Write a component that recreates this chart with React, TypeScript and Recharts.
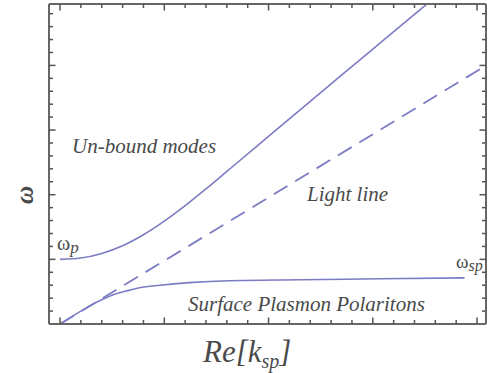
import { ComposedChart, Line, Scatter, XAxis, YAxis } from "recharts";

// values (k in units of ~207px, omega in units where omega_p = 0.5)
const upperK = [0, 0.1, 0.2, 0.3, 0.4, 0.5, 0.6, 0.7, 0.8, 0.97, 1.15, 1.35, 1.54, 1.76];
const upperW = [0.5, 0.51, 0.545, 0.605, 0.69, 0.795, 0.915, 1.045, 1.18, 1.41, 1.655, 1.925, 2.18, 2.475];

const lightK = [0, 2.034];
const lightW = [0, 1.99];

const sppK = [0, 0.09, 0.19, 0.28, 0.33, 0.38, 0.48, 0.62, 0.81, 1.15, 1.54, 1.94];
const sppW = [0, 0.09, 0.18, 0.24, 0.26, 0.28, 0.3, 0.32, 0.335, 0.342, 0.35, 0.357];

const xTicks = [0, 0.1, 0.2, 0.3, 0.4, 0.5, 0.6, 0.7, 0.8, 0.9, 1, 1.1, 1.2, 1.3, 1.4, 1.5, 1.6, 1.7, 1.8, 1.9, 2];
const xMajorTicks = [0, 0.5, 1, 1.5, 2];
const yTicks = [0.1, 0.2, 0.3, 0.4, 0.5, 0.6, 0.7, 0.8, 0.9, 1, 1.1, 1.2, 1.3, 1.4, 1.5, 1.6, 1.7, 1.8, 1.9, 2, 2.1, 2.2, 2.3, 2.4];
const yMajorTicks = [0.5, 1, 1.5, 2];

const X_DOMAIN: [number, number] = [-0.053, 2.043];
const Y_DOMAIN: [number, number] = [0, 2.475];

const toPoints = (ks: number[], ws: number[]) => ks.map((k, i) => ({ k, w: ws[i] }));

const upper = toPoints(upperK, upperW);
const light = toPoints(lightK, lightW);
const spp = toPoints(sppK, sppW);

// frame tick positions, placed on the frame edges through the chart scales
const isMajor = (v: number, majors: number[]) => majors.some((m) => Math.abs(m - v) < 1e-6);
const bottomTicks = xTicks.map((v) => ({ k: v, w: Y_DOMAIN[0], major: isMajor(v, xMajorTicks) }));
const topTicks = xTicks.map((v) => ({ k: v, w: Y_DOMAIN[1], major: isMajor(v, xMajorTicks) }));
const leftTicks = yTicks.map((v) => ({ k: X_DOMAIN[0], w: v, major: isMajor(v, yMajorTicks) }));
const rightTicks = yTicks.map((v) => ({ k: X_DOMAIN[1], w: v, major: isMajor(v, yMajorTicks) }));

const LINE = "#7c7cc4";
const FRAME = "#666666";
const TICK = "#555555";
const TEXT = "#4a4a4a";
const SERIF = "'Liberation Serif', 'Times New Roman', 'DejaVu Serif', serif";

const axisLine = { stroke: FRAME, strokeWidth: 2 };

// draws a short inward mark at the scatter point
const tickShape = (dx: number, dy: number) => (props: any) => {
    const { cx, cy, payload } = props;
    const len = payload && payload.major ? 6.5 : 4;
    return <line x1={cx} y1={cy} x2={cx + dx * len} y2={cy + dy * len} stroke={TICK} strokeWidth={1.5} />;
};

const App = () => {
    return (
        <div style={{ position: "absolute", left: 0, top: 0, width: 493, height: 373, background: "#fff" }}>
            {/* each axis is 1px deep, so margins are 1px smaller than the frame offsets */}
            <ComposedChart width={493} height={373} margin={{ top: 4, right: 7, bottom: 49, left: 49 }}>
                <XAxis xAxisId="b" type="number" dataKey="k" domain={X_DOMAIN} allowDataOverflow
                    height={1} mirror tick={false} tickLine={false} axisLine={axisLine} />
                <XAxis xAxisId="t" orientation="top" type="number" dataKey="k" domain={X_DOMAIN} allowDataOverflow
                    height={1} mirror tick={false} tickLine={false} axisLine={axisLine} />
                <YAxis yAxisId="l" type="number" dataKey="w" domain={Y_DOMAIN} allowDataOverflow
                    width={1} mirror tick={false} tickLine={false} axisLine={axisLine} />
                <YAxis yAxisId="r" orientation="right" type="number" dataKey="w" domain={Y_DOMAIN} allowDataOverflow
                    width={1} mirror tick={false} tickLine={false} axisLine={axisLine} />

                <Scatter data={bottomTicks} dataKey="w" xAxisId="b" yAxisId="l" shape={tickShape(0, -1)} isAnimationActive={false} />
                <Scatter data={topTicks} dataKey="w" xAxisId="b" yAxisId="l" shape={tickShape(0, 1)} isAnimationActive={false} />
                <Scatter data={leftTicks} dataKey="w" xAxisId="b" yAxisId="l" shape={tickShape(1, 0)} isAnimationActive={false} />
                <Scatter data={rightTicks} dataKey="w" xAxisId="b" yAxisId="l" shape={tickShape(-1, 0)} isAnimationActive={false} />

                <Line data={light} dataKey="w" xAxisId="b" yAxisId="l" type="linear" dot={false}
                    stroke={LINE} strokeWidth={1.8} strokeDasharray="16 9" isAnimationActive={false} />
                <Line data={upper} dataKey="w" xAxisId="b" yAxisId="l" type="monotone" dot={false}
                    stroke={LINE} strokeWidth={1.6} isAnimationActive={false} />
                <Line data={spp} dataKey="w" xAxisId="b" yAxisId="l" type="monotone" dot={false}
                    stroke={LINE} strokeWidth={1.6} isAnimationActive={false} />
            </ComposedChart>

            {/* annotations and axis titles */}
            <svg width={493} height={373} style={{ position: "absolute", left: 0, top: 0, pointerEvents: "none" }}>
                <g style={{ fontFamily: SERIF }} fill={TEXT}>
                    <text x={72} y={153} fontSize={21} fontStyle="italic">Un-bound modes</text>
                    <text x={307} y={201} fontSize={21} fontStyle="italic">Light line</text>
                    <text x={188} y={311} fontSize={21} fontStyle="italic">Surface Plasmon Polaritons</text>
                    <text x={57} y={250} fontSize={20}>
                        ω<tspan fontStyle="italic" fontSize={17} dy={3}>p</tspan>
                    </text>
                    <text x={456} y={268} fontSize={19}>
                        ω<tspan fontStyle="italic" fontSize={16} dy={3}>sp</tspan>
                    </text>
                    <text x={203} y={362} fontSize={31} fontStyle="italic">
                        Re[k<tspan fontSize={20} dy={6}>sp</tspan><tspan dy={-6}>]</tspan>
                    </text>
                    <text x={0} y={0} fontSize={25} fontStyle="italic" fontWeight="bold" textAnchor="middle"
                        transform="translate(33 195) rotate(-90)">ω</text>
                </g>
            </svg>
        </div>
    );
};

export default App;
